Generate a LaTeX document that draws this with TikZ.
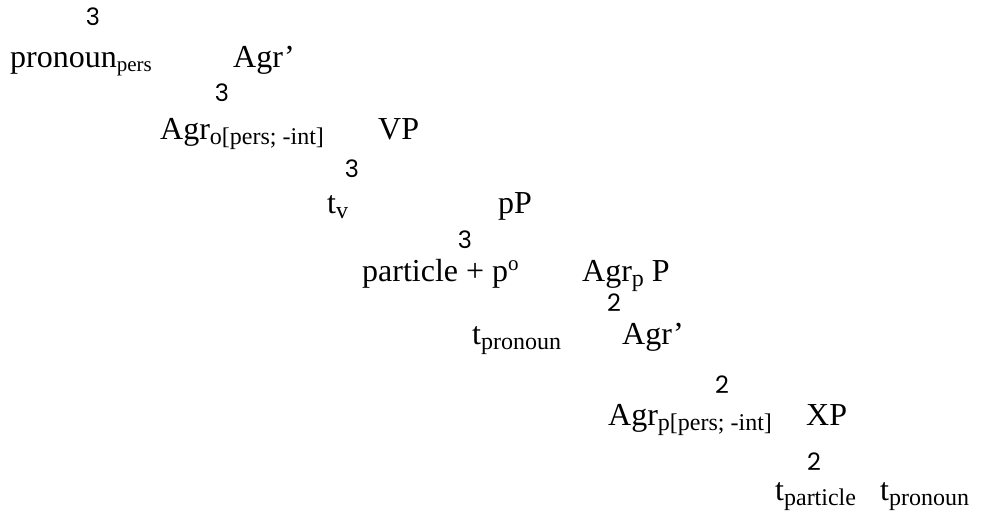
\documentclass[tikz,border=0pt]{standalone}
\usepackage{fontspec}
\setmainfont{Liberation Serif}
\newfontfamily\digitfont{Poppins}
\newcommand{\sbs}[1]{\raisebox{-5pt}{\fontsize{24}{27}\selectfont #1}}
\newcommand{\sbsm}[1]{\raisebox{-4pt}{\fontsize{21}{24}\selectfont #1}}
\newcommand{\sps}[1]{\raisebox{11pt}{\fontsize{21}{24}\selectfont #1}}
\tikzset{
  lbl/.style={anchor=base west, inner sep=0pt, font=\fontsize{32}{38}\selectfont},
  br/.style={anchor=center, inner sep=0pt, font=\digitfont\fontsize{24}{28}\selectfont},
}
\begin{document}
\begin{tikzpicture}[x=1pt,y=-1pt]
\useasboundingbox (0,0) rectangle (997,516);
% level 1
\node[br]  (b1) at (93,17) {3};
\node[lbl] (n1) at (10,68) {pronoun\sbsm{pers}};
\node[lbl] (n2) at (233,68) {Agr’};
% level 2
\node[br]  (b2) at (222,93) {3};
\node[lbl] (n3) at (160,140) {Agr\sbs{o[pers; -int]}};
\node[lbl] (n4) at (378,140) {VP};
% level 3
\node[br]  (b3) at (352,169) {3};
\node[lbl] (n5) at (327,214) {t\sbs{v}};
\node[lbl] (n6) at (498,214) {pP};
% level 4
\node[br]  (b4) at (465,240) {3};
\node[lbl] (n7) at (362,281) {particle + p\sps{o}};
\node[lbl] (n8) at (582,281) {Agr\sbs{p} P};
% level 5
\node[br]  (b5) at (614,303) {2};
\node[lbl] (n9) at (472,344) {t\sbs{pronoun}};
\node[lbl] (n10) at (622,344) {Agr’};
% level 6
\node[br]  (b6) at (722,385) {2};
\node[lbl] (n11) at (608,425) {Agr\sbs{p[pers; -int]}};
\node[lbl] (n12) at (806,425) {XP};
% level 7
\node[br]  (b7) at (814,462) {2};
\node[lbl] (n13) at (775,500) {t\sbs{particle}};
\node[lbl] (n14) at (880,500) {t\sbs{pronoun}};
\end{tikzpicture}
\end{document}
